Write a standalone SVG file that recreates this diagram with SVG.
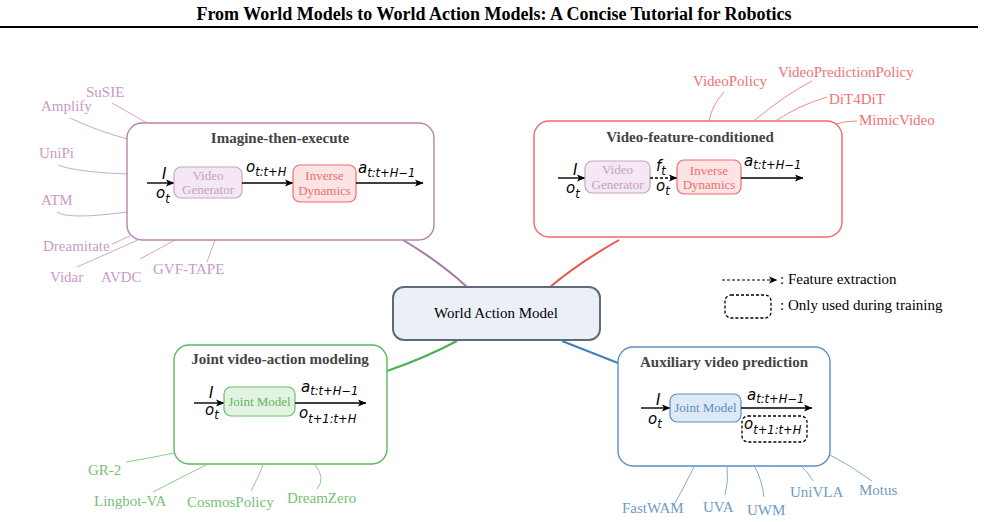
<svg xmlns="http://www.w3.org/2000/svg" width="985" height="522" viewBox="0 0 985 522">
<style>
.serif{font-family:"Liberation Serif","Times New Roman",serif}
.title{font-family:"Liberation Serif",serif;font-weight:bold;font-size:18px;fill:#000}
.sect{font-family:"Liberation Serif",serif;font-weight:bold;font-size:15px;fill:#444}
.leaf{font-family:"Liberation Serif",serif;font-size:15px}
.box{font-family:"Liberation Serif",serif;font-size:13px}
.math{font-family:"DejaVu Sans",sans-serif;font-style:italic;font-size:15px;fill:#000}
.sub{font-size:11.5px}
.pur{fill:#c99bc4}.red{fill:#ef7474}.grn{fill:#78c078}.blu{fill:#6e9bc6}
.lp{stroke:#d0a7cb;fill:none;stroke-width:1}
.lr{stroke:#f28a8a;fill:none;stroke-width:1}
.lg{stroke:#8ccb8c;fill:none;stroke-width:1}
.lb{stroke:#86abd0;fill:none;stroke-width:1}
.arr{stroke:#000;stroke-width:1.4;fill:none;marker-end:url(#ah)}
</style>
<defs>
<marker id="ah" markerWidth="9" markerHeight="8" refX="8" refY="4" orient="auto" markerUnits="userSpaceOnUse">
<path d="M0,0.5 L8.5,4 L0,7.5 L2,4 z" fill="#000"/>
</marker>
</defs>
<rect width="985" height="522" fill="#fff"/>
<text class="title" x="494" y="20" text-anchor="middle">From World Models to World Action Models: A Concise Tutorial for Robotics</text>
<line x1="0" y1="27" x2="978" y2="27" stroke="#000" stroke-width="2"/>

<g id="connectors">
<path d="M403,240 Q440,262 467,287" stroke="#a77aa0" stroke-width="2" fill="none"/>
<path d="M619,240 Q580,262 550,287" stroke="#ee4f4f" stroke-width="2" fill="none"/>
<path d="M387,371 Q425,358 457,341" stroke="#4caf50" stroke-width="2" fill="none"/>
<path d="M562,341 Q590,352 618,363" stroke="#3f7fbf" stroke-width="2" fill="none"/>
<path class="lp" d="M112,103 L147,123"/>
<path class="lp" d="M70,118 Q95,130 127,139"/>
<path class="lp" d="M58,165 Q75,172 127,174"/>
<path class="lp" d="M57,212 Q68,220 127,212"/>
<path class="lp" d="M112,244 L130,236"/>
<path class="lp" d="M77,267 L138,240"/>
<path class="lp" d="M140,259 L175,240"/>
<path class="lp" d="M207,262 L215,240"/>
<path class="lr" d="M724,92 Q712,105 709,121"/>
<path class="lr" d="M812,81 Q785,95 755,120"/>
<path class="lr" d="M827,97 Q800,105 777,120"/>
<path class="lr" d="M857,121 Q845,121 836,124"/>
<path class="lg" d="M126,462 Q150,458 174,453"/>
<path class="lg" d="M153,492 Q180,478 206,465"/>
<path class="lg" d="M251,491 Q258,478 263,465"/>
<path class="lg" d="M315,465 Q326,478 317,489"/>
<path class="lb" d="M674,505 Q685,485 694,467"/>
<path class="lb" d="M725,495 Q729,480 727,467"/>
<path class="lb" d="M764,497 Q762,480 755,467"/>
<path class="lb" d="M813,481 Q808,472 802,467"/>
<path class="lb" d="M872,481 Q850,465 830,455"/>
</g>

<g id="world-action-model">
<rect x="393" y="287" width="207" height="53" rx="11" fill="#ebf0f8" stroke="#5d6b7b" stroke-width="2"/>
<text class="serif" x="496" y="318" font-size="15" text-anchor="middle" fill="#000">World Action Model</text>
</g>

<g id="imagine-then-execute">
<rect x="127" y="123" width="307" height="117" rx="15" fill="#fff" stroke="#b983ae" stroke-width="1.4"/>
<text class="sect" x="280" y="143" text-anchor="middle">Imagine-then-execute</text>
<line class="arr" x1="147" y1="183" x2="174" y2="183"/>
<text class="math" x="162" y="179">I</text>
<text class="math" x="156" y="198">o<tspan class="sub" dy="5">t</tspan></text>
<rect x="174" y="167" width="68" height="31" rx="7" fill="#f4e8f2" stroke="#c9a3c6" stroke-width="1.2"/>
<text class="box" x="208" y="180" text-anchor="middle" fill="#c8a0c3">Video</text>
<text class="box" x="208" y="194" text-anchor="middle" fill="#c8a0c3">Generator</text>
<line class="arr" x1="242" y1="183" x2="293" y2="183"/>
<text class="math" x="246" y="172">o<tspan class="sub" dy="4">t:t+H</tspan></text>
<rect x="293" y="165" width="63" height="37" rx="7" fill="#fde4e4" stroke="#f26b6b" stroke-width="1.2"/>
<text class="box" x="324.5" y="180" text-anchor="middle" fill="#ef6f6f">Inverse</text>
<text class="box" x="324.5" y="195" text-anchor="middle" fill="#ef6f6f">Dynamics</text>
<line class="arr" x1="356" y1="183" x2="423" y2="183"/>
<text class="math" x="358" y="173">a<tspan class="sub" dy="4">t:t+H−1</tspan></text>
</g>
<g id="imagine-leaves">
<text class="leaf pur" x="86" y="97">SuSIE</text>
<text class="leaf pur" x="41" y="111">Amplify</text>
<text class="leaf pur" x="39" y="158">UniPi</text>
<text class="leaf pur" x="41" y="205">ATM</text>
<text class="leaf pur" x="43" y="251">Dreamitate</text>
<text class="leaf pur" x="50" y="282">Vidar</text>
<text class="leaf pur" x="101" y="282">AVDC</text>
<text class="leaf pur" x="153" y="274">GVF-TAPE</text>
</g>

<g id="video-feature-conditioned">
<rect x="534" y="121" width="308" height="116" rx="15" fill="#fff" stroke="#f06a6a" stroke-width="1.4"/>
<text class="sect" x="690" y="142" text-anchor="middle">Video-feature-conditioned</text>
<line class="arr" x1="558" y1="178" x2="585" y2="178"/>
<text class="math" x="573" y="175">I</text>
<text class="math" x="566" y="193">o<tspan class="sub" dy="5">t</tspan></text>
<rect x="585" y="161" width="65" height="32" rx="7" fill="#f4e8f2" stroke="#c9a3c6" stroke-width="1.2"/>
<text class="box" x="617.5" y="174" text-anchor="middle" fill="#c8a0c3">Video</text>
<text class="box" x="617.5" y="189" text-anchor="middle" fill="#c8a0c3">Generator</text>
<line class="arr" x1="650" y1="178" x2="677" y2="178" stroke-dasharray="3,2"/>
<text class="math" x="656" y="171">f<tspan class="sub" dy="4">t</tspan></text>
<text class="math" x="656" y="191">o<tspan class="sub" dy="4">t</tspan></text>
<rect x="677" y="160" width="64" height="34" rx="7" fill="#fde4e4" stroke="#f26b6b" stroke-width="1.2"/>
<text class="box" x="709" y="175" text-anchor="middle" fill="#ef6f6f">Inverse</text>
<text class="box" x="709" y="189" text-anchor="middle" fill="#ef6f6f">Dynamics</text>
<line class="arr" x1="741" y1="178" x2="803" y2="178"/>
<text class="math" x="744" y="166">a<tspan class="sub" dy="3">t:t+H−1</tspan></text>
</g>
<g id="video-feature-leaves">
<text class="leaf red" x="693" y="86">VideoPolicy</text>
<text class="leaf red" x="778" y="77">VideoPredictionPolicy</text>
<text class="leaf red" x="829" y="104">DiT4DiT</text>
<text class="leaf red" x="859" y="125">MimicVideo</text>
</g>

<g id="legend">
<line x1="722" y1="280" x2="777" y2="280" stroke="#000" stroke-width="1.2" stroke-dasharray="3,2" marker-end="url(#ah)"/>
<text class="serif" x="780" y="284" font-size="15" fill="#000">: Feature extraction</text>
<rect x="725" y="295" width="46" height="23" rx="6" fill="none" stroke="#000" stroke-width="1.3" stroke-dasharray="3,2"/>
<text class="serif" x="780" y="310" font-size="15" fill="#000">: Only used during training</text>
</g>

<g id="joint-video-action-modeling">
<rect x="174" y="345" width="213" height="119" rx="15" fill="#fff" stroke="#5cb85c" stroke-width="1.4"/>
<text class="sect" x="280" y="364" text-anchor="middle">Joint video-action modeling</text>
<line class="arr" x1="194" y1="403" x2="224" y2="403"/>
<text class="math" x="209" y="398">I</text>
<text class="math" x="205" y="415">o<tspan class="sub" dy="4">t</tspan></text>
<rect x="224" y="387" width="71" height="29" rx="7" fill="#e2f3e2" stroke="#6cbf6c" stroke-width="1.2"/>
<text class="box" x="259.5" y="406" text-anchor="middle" font-size="12" fill="#5cb85c">Joint Model</text>
<line class="arr" x1="295" y1="403" x2="366" y2="403"/>
<text class="math" x="301" y="392">a<tspan class="sub" dy="3">t:t+H−1</tspan></text>
<text class="math" x="299" y="418">o<tspan class="sub" dy="5">t+1:t+H</tspan></text>
</g>
<g id="joint-leaves">
<text class="leaf grn" x="88" y="475">GR-2</text>
<text class="leaf grn" x="94" y="506">Lingbot-VA</text>
<text class="leaf grn" x="187" y="507">CosmosPolicy</text>
<text class="leaf grn" x="287" y="503">DreamZero</text>
</g>

<g id="auxiliary-video-prediction">
<rect x="618" y="347" width="212" height="119" rx="15" fill="#fff" stroke="#5b8fc0" stroke-width="1.4"/>
<text class="sect" x="724" y="367" text-anchor="middle" fill="#111">Auxiliary video prediction</text>
<line class="arr" x1="641" y1="408" x2="670" y2="408"/>
<text class="math" x="656" y="405">I</text>
<text class="math" x="648" y="424">o<tspan class="sub" dy="4">t</tspan></text>
<rect x="670" y="394" width="71" height="28" rx="7" fill="#dde9f6" stroke="#5b8fc0" stroke-width="1.2"/>
<text class="box" x="705.5" y="412" text-anchor="middle" font-size="12.5" fill="#5b8fc0">Joint Model</text>
<line class="arr" x1="741" y1="408" x2="812" y2="408"/>
<text class="math" x="747" y="400">a<tspan class="sub" dy="3">t:t+H−1</tspan></text>
<rect x="742" y="416" width="65" height="26" rx="6" fill="none" stroke="#000" stroke-width="1.3" stroke-dasharray="3,2"/>
<text class="math" x="744" y="429">o<tspan class="sub" dy="5">t+1:t+H</tspan></text>
</g>
<g id="auxiliary-leaves">
<text class="leaf blu" x="622" y="513">FastWAM</text>
<text class="leaf blu" x="703" y="512">UVA</text>
<text class="leaf blu" x="747" y="515">UWM</text>
<text class="leaf blu" x="790" y="497">UniVLA</text>
<text class="leaf blu" x="859" y="495">Motus</text>
</g>
</svg>
